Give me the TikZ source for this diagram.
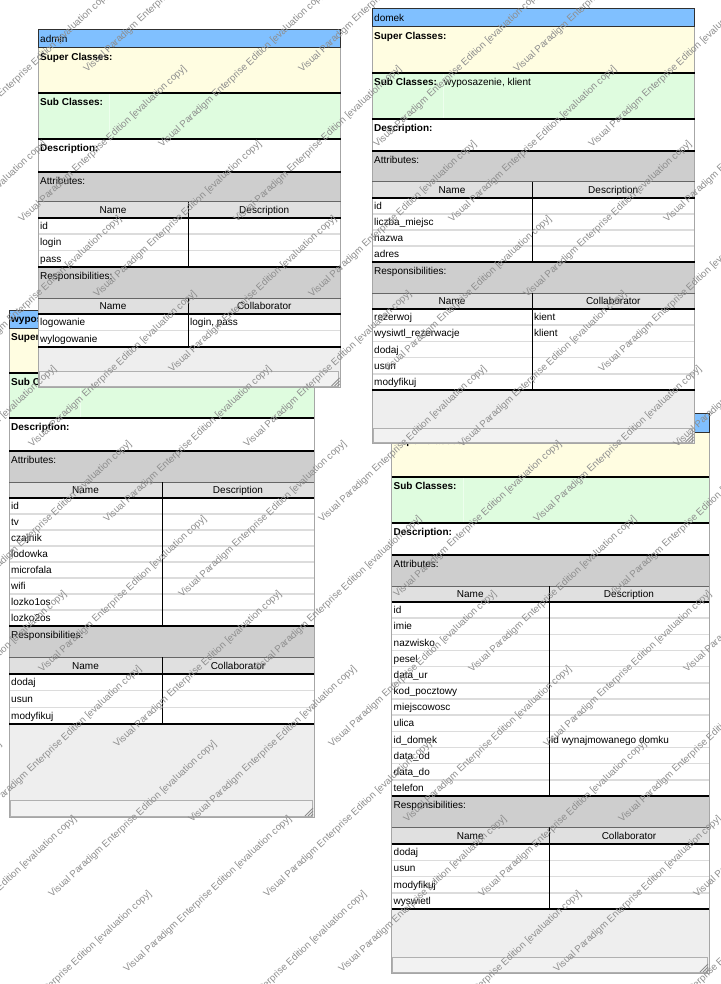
\documentclass[tikz,border=0pt]{standalone}
\usepackage{fontspec}
\setmainfont{Liberation Sans}
\definecolor{titleblue}{HTML}{80C0FF}
\definecolor{superyellow}{HTML}{FFFDE1}
\definecolor{subgreen}{HTML}{DFFCDF}
\definecolor{labelgray}{HTML}{CECECE}
\definecolor{headgray}{HTML}{E0E0E0}
\definecolor{bottomgray}{HTML}{EEEEEE}
\definecolor{stripfill}{HTML}{F2F2F2}
\definecolor{stripedge}{HTML}{B0B0B0}
\definecolor{rowgray}{HTML}{DCDCDC}
\definecolor{cardedge}{HTML}{A6A6A6}
\definecolor{titleedge}{HTML}{303030}
\definecolor{wmgray}{HTML}{8E8E8E}
\definecolor{sublinecol}{HTML}{EDFFED}
\definecolor{gripcol}{HTML}{8C8C8C}
\tikzset{
 celltxt/.style={anchor=base west,inner sep=0pt,font=\fontsize{10}{12}\selectfont},
 celllbl/.style={anchor=base west,inner sep=0pt,font=\fontsize{10}{12}\selectfont\bfseries},
 hdrtxt/.style={anchor=base,inner sep=0pt,font=\fontsize{10}{12}\selectfont},
 thicksep/.style={line width=2pt,black},
 endsep/.style={line width=2.5pt,black},
 thinsep/.style={line width=1pt,black!60},
 rowsep/.style={line width=1.5pt,rowgray},
 coldiv/.style={line width=1pt,black},
 cardframe/.style={line width=1pt,cardedge},
 titleframe/.style={line width=1pt,titleedge},
 stripbox/.style={line width=0.8pt,draw=stripedge,fill=stripfill},
 gripline/.style={line width=0.8pt,gripcol},
 subline/.style={line width=1pt,sublinecol},
 wm/.style={anchor=base west,inner sep=0pt,rotate=43,text=wmgray,font=\fontsize{9.7}{11}\selectfont},
}
\newcommand\cardgeom[8]{\def\cL{#1}\def\cR{#2}\def\cC{#3}\def\cT{#4}\def\cS{#5}\def\cSub{#6}\def\cD{#7}\def\cA{#8}}
\newcommand\cardgeomb[8]{\def\cAH{#1}\def\cAR{#2}\def\cAE{#3}\def\cRH{#4}\def\cRR{#5}\def\cRE{#6}\def\cST{#7}\def\cB{#8}}
\newcommand\cardextra[4]{\def\nA{#1}\def\nR{#2}\def\cSubX{#3}\def\cSubV{#4}}
% #1 name, #2 title, #3 subclass value, #4 attributes, #5 responsibilities
\newcommand\drawcard[5]{%
 \fill[titleblue] (\cL,\cT) rectangle (\cR,\cS);
 \fill[superyellow] (\cL,\cS) rectangle (\cR,\cSub);
 \fill[subgreen] (\cL,\cSub) rectangle (\cR,\cD);
 \draw[subline] (\cSubX,\cSub) -- (\cSubX,\cD);
 \fill[white] (\cL,\cD) rectangle (\cR,\cA);
 \fill[labelgray] (\cL,\cA) rectangle (\cR,\cAH);
 \fill[headgray] (\cL,\cAH) rectangle (\cR,\cAR);
 \fill[white] (\cL,\cAR) rectangle (\cR,\cAE);
 \fill[labelgray] (\cL,\cAE) rectangle (\cR,\cRH);
 \fill[headgray] (\cL,\cRH) rectangle (\cR,\cRR);
 \fill[white] (\cL,\cRR) rectangle (\cR,\cRE);
 \fill[bottomgray] (\cL,\cRE) rectangle (\cR,\cB);
 \pgfmathsetmacro\hA{(\cAE-\cAR)/\nA}
 \pgfmathsetmacro\hR{(\cRE-\cRR)/\nR}
 \pgfmathtruncatemacro\nAm{\nA-1}
 \pgfmathtruncatemacro\nRm{\nR-1}
 \foreach \k in {1,...,\nAm} {\draw[rowsep] (\cL,{\cAR+\k*\hA}) -- (\cR,{\cAR+\k*\hA});}
 \foreach \k in {1,...,\nRm} {\draw[rowsep] (\cL,{\cRR+\k*\hR}) -- (\cR,{\cRR+\k*\hR});}
 \draw[stripbox] ({\cL+1},\cST) rectangle ({\cR-2},{\cB-1});
 \foreach \g in {3,6,9} {\draw[gripline] ({\cR-1},{\cB-\g}) -- ({\cR-\g},{\cB-1});}
 \draw[cardframe] (\cL,\cS) rectangle (\cR,\cB);
 \draw[titleframe] (\cL,\cT) rectangle (\cR,\cS);
 \draw[thicksep] (\cL,\cSub) -- (\cR,\cSub);
 \draw[thicksep] (\cL,\cD) -- (\cR,\cD);
 \draw[thicksep] (\cL,\cA) -- (\cR,\cA);
 \draw[thinsep] (\cL,\cAH) -- (\cR,\cAH);
 \draw[thicksep] (\cL,\cAR) -- (\cR,\cAR);
 \draw[thicksep] (\cL,\cAE) -- (\cR,\cAE);
 \draw[thinsep] (\cL,\cRH) -- (\cR,\cRH);
 \draw[thicksep] (\cL,\cRR) -- (\cR,\cRR);
 \draw[endsep] (\cL,\cRE) -- (\cR,\cRE);
 \draw[coldiv] (\cC,\cAH) -- (\cC,\cAE);
 \draw[coldiv] (\cC,\cRH) -- (\cC,\cRE);
 \node[celltxt] (#1-title) at ({\cL+2},{(\cT+\cS)/2+3.6}) {#2};
 \node[celllbl] (#1-super) at ({\cL+2},{\cS+12.6}) {Super Classes:};
 \node[celllbl] (#1-sub) at ({\cL+2},{\cSub+12.6}) {Sub Classes:};
 \node[celltxt] (#1-subv) at (\cSubV,{\cSub+12.6}) {#3};
 \node[celllbl] (#1-desc) at ({\cL+2},{\cD+12.6}) {Description:};
 \node[celltxt] (#1-attr) at ({\cL+2},{\cA+12.2}) {Attributes:};
 \node[hdrtxt] (#1-ahn) at ({(\cL+\cC)/2},{(\cAH+\cAR)/2+3.6}) {Name};
 \node[hdrtxt] (#1-ahd) at ({(\cC+\cR)/2},{(\cAH+\cAR)/2+3.6}) {Description};
 \foreach \n/\d [count=\i] in {#4} {
   \node[celltxt] (#1-an\i) at ({\cL+2},{\cAR+(\i-0.5)*\hA+3.6}) {\n};
   \node[celltxt] (#1-ad\i) at ({\cC+2},{\cAR+(\i-0.5)*\hA+3.6}) {\d};
 }
 \node[celltxt] (#1-resp) at ({\cL+2},{\cAE+12.6}) {Responsibilities:};
 \node[hdrtxt] (#1-rhn) at ({(\cL+\cC)/2},{(\cRH+\cRR)/2+3.6}) {Name};
 \node[hdrtxt] (#1-rhc) at ({(\cC+\cR)/2},{(\cRH+\cRR)/2+3.6}) {Collaborator};
 \foreach \n/\d [count=\i] in {#5} {
   \node[celltxt] (#1-rn\i) at ({\cL+2},{\cRR+(\i-0.5)*\hR+3.6}) {\n};
   \node[celltxt] (#1-rc\i) at ({\cC+2},{\cRR+(\i-0.5)*\hR+3.6}) {\d};
 }
}
\begin{document}
\begin{tikzpicture}[x=1pt,y=-1pt]
\useasboundingbox (0,0) rectangle (720,984);
\fill[white] (0,0) rectangle (720,984);
% wyposazenie
\cardgeom{9}{314}{162}{310}{328}{373}{418}{451}
\cardgeomb{482}{498}{626}{657}{674}{724}{800}{817}
\cardextra{8}{3}{80}{80}
\drawcard{wyp}{\bfseries wyposazenie}{}{id/, tv/, czajnik/, lodowka/, microfala/, wifi/, lozko1os/, lozko2os/}{dodaj/, usun/, modyfikuj/}
% admin
\cardgeom{38}{340.5}{188}{30}{48}{93}{139}{172}
\cardgeomb{202}{218}{266.5}{298}{314}{347}{371}{387}
\cardextra{3}{2}{109}{109}
\drawcard{adm}{admin}{}{id/, login/, pass/}{logowanie/{login, pass}, wylogowanie/}
% klient
\cardgeom{391.5}{709}{549}{413}{432}{477}{523}{555}
\cardgeomb{586}{602}{796}{827}{844}{909}{957}{973}
\cardextra{12}{4}{463}{463}
\drawcard{kli}{}{}{id/, imie/, nazwisko/, pesel/, data\_ur/, kod\_pocztowy/, miejscowosc/, ulica/, id\_domek/id wynajmowanego domku, data\_od/, data\_do/, telefon/}{dodaj/, usun/, modyfikuj/, wyswietl/}
% domek
\cardgeom{372}{694.5}{532}{9}{27}{73}{119}{151}
\cardgeomb{182}{198}{262}{293}{309}{390}{428}{443}
\cardextra{4}{5}{443}{444}
\drawcard{dom}{domek}{wyposazenie, klient}{id/, liczba\_miejsc/, nazwa/, adres/}{rezerwoj/kient, wysiwtl\_rezerwacje/klient, dodaj/, usun/, modyfikuj/}
% watermark
\begin{scope}
\clip (0,0) rectangle (720,984);
\foreach \m in {-13,...,2} {
 \foreach \k in {-4,...,7} {
  \pgfmathsetmacro\wx{52+215*\k+75*\m}
  \pgfmathsetmacro\wy{898+75*\m}
  \pgfmathtruncatemacro\ok{and(and(\wx>-175,\wx<720),and(\wy>0,\wy<1140))}
  \ifnum\ok=1
   \node[wm] (wm\m x\k) at (\wx,\wy) {Visual Paradigm Enterprise Edition [evaluation copy]};
  \fi
 }
}
\end{scope}
\end{tikzpicture}
\end{document}
